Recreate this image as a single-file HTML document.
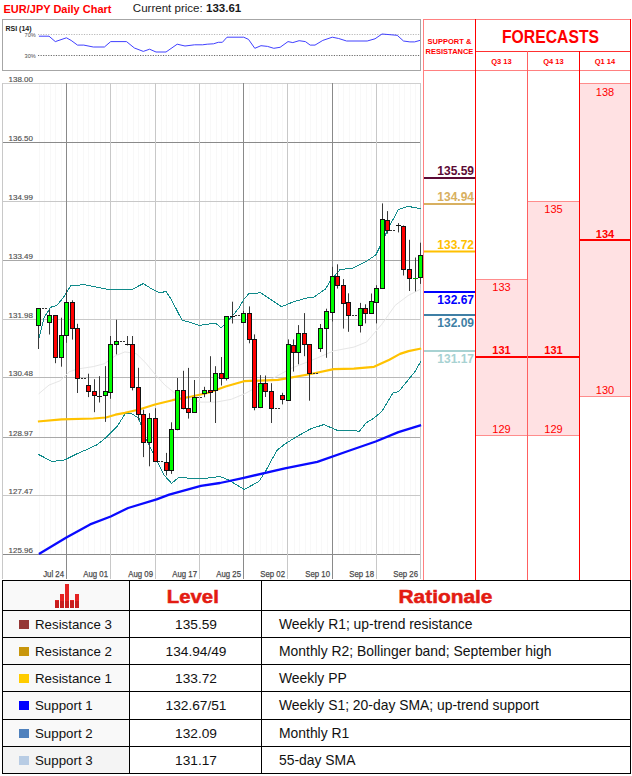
<!DOCTYPE html>
<html><head><meta charset="utf-8"><title>EUR/JPY Daily Chart</title>
<style>html,body{margin:0;padding:0;background:#fff;width:632px;height:776px;overflow:hidden}</style>
</head><body>
<svg width="632" height="776" viewBox="0 0 632 776" style="display:block">
<rect x="0" y="0" width="632" height="776" fill="#fff"/>
<text x="3.5" y="13" font-family='"Liberation Sans", sans-serif' font-size="11" font-weight="bold" fill="#ff0000">EUR/JPY Daily Chart</text>
<text x="132.8" y="12.4" font-family='"Liberation Sans", sans-serif' font-size="11" textLength="108.5" lengthAdjust="spacingAndGlyphs" fill="#1a1a1a">Current price: <tspan font-weight="bold">133.61</tspan></text>
<rect x="2.5" y="19.5" width="418" height="51" fill="none" stroke="#a6a6a6" stroke-width="1"/>
<text x="5.5" y="31" font-family='"Liberation Sans", sans-serif' font-size="7" font-weight="bold" fill="#222">RSI (14)</text>
<text x="24.6" y="37.2" font-family='"Liberation Sans", sans-serif' font-size="5.6" fill="#4a4a4a">70%</text>
<text x="24.6" y="58.2" font-family='"Liberation Sans", sans-serif' font-size="5.6" fill="#4a4a4a">30%</text>
<line x1="38" y1="34.5" x2="420" y2="34.5" stroke="#b8b8b8" stroke-width="1" stroke-dasharray="1.2 1.35"/>
<line x1="38" y1="55.5" x2="420" y2="55.5" stroke="#6a6a6a" stroke-width="1" stroke-dasharray="1.2 1.35"/>
<polyline fill="none" stroke="#4040ff" stroke-width="1" points="38.9,36.2 49,36.2 55.3,41.6 66.4,37.8 71.1,40.4 77.5,45.1 83.8,45.1 93.3,47 104.4,47 110.7,41.6 126.5,41.6 134.4,48 143.3,51.4 149.6,49.2 156,52 166,52 177.2,44.2 185,46 194.6,44.8 202.5,44.8 207.2,44.2 213.5,43.8 218.3,42.3 222.4,42.3 227,37.2 243.7,37.2 248.5,39.4 254.8,48.3 261,45.7 267.5,46.4 273.8,48.3 280.1,47.3 288,41.6 292.8,42.6 299.1,40.7 305.4,41.6 310.2,45.1 315,45.1 322.8,40.4 332.3,37.2 338.7,38.5 346.6,41 367.2,41 375,38.8 382,34 397.2,35.3 403.5,41 409.9,41.9 414.6,41.9 420,40.4"/>
<rect x="39" y="83" width="1" height="471" fill="#f8f8f8" shape-rendering="crispEdges"/>
<rect x="44" y="83" width="1" height="471" fill="#f8f8f8" shape-rendering="crispEdges"/>
<rect x="50" y="83" width="1" height="471" fill="#f8f8f8" shape-rendering="crispEdges"/>
<rect x="55" y="83" width="1" height="471" fill="#f8f8f8" shape-rendering="crispEdges"/>
<rect x="61" y="83" width="1" height="471" fill="#f8f8f8" shape-rendering="crispEdges"/>
<rect x="72" y="83" width="1" height="471" fill="#f8f8f8" shape-rendering="crispEdges"/>
<rect x="77" y="83" width="1" height="471" fill="#f8f8f8" shape-rendering="crispEdges"/>
<rect x="83" y="83" width="1" height="471" fill="#f8f8f8" shape-rendering="crispEdges"/>
<rect x="88" y="83" width="1" height="471" fill="#f8f8f8" shape-rendering="crispEdges"/>
<rect x="94" y="83" width="1" height="471" fill="#f8f8f8" shape-rendering="crispEdges"/>
<rect x="100" y="83" width="1" height="471" fill="#f8f8f8" shape-rendering="crispEdges"/>
<rect x="105" y="83" width="1" height="471" fill="#f8f8f8" shape-rendering="crispEdges"/>
<rect x="116" y="83" width="1" height="471" fill="#f8f8f8" shape-rendering="crispEdges"/>
<rect x="122" y="83" width="1" height="471" fill="#f8f8f8" shape-rendering="crispEdges"/>
<rect x="127" y="83" width="1" height="471" fill="#f8f8f8" shape-rendering="crispEdges"/>
<rect x="133" y="83" width="1" height="471" fill="#f8f8f8" shape-rendering="crispEdges"/>
<rect x="138" y="83" width="1" height="471" fill="#f8f8f8" shape-rendering="crispEdges"/>
<rect x="144" y="83" width="1" height="471" fill="#f8f8f8" shape-rendering="crispEdges"/>
<rect x="149" y="83" width="1" height="471" fill="#f8f8f8" shape-rendering="crispEdges"/>
<rect x="161" y="83" width="1" height="471" fill="#f8f8f8" shape-rendering="crispEdges"/>
<rect x="166" y="83" width="1" height="471" fill="#f8f8f8" shape-rendering="crispEdges"/>
<rect x="172" y="83" width="1" height="471" fill="#f8f8f8" shape-rendering="crispEdges"/>
<rect x="177" y="83" width="1" height="471" fill="#f8f8f8" shape-rendering="crispEdges"/>
<rect x="183" y="83" width="1" height="471" fill="#f8f8f8" shape-rendering="crispEdges"/>
<rect x="188" y="83" width="1" height="471" fill="#f8f8f8" shape-rendering="crispEdges"/>
<rect x="194" y="83" width="1" height="471" fill="#f8f8f8" shape-rendering="crispEdges"/>
<rect x="205" y="83" width="1" height="471" fill="#f8f8f8" shape-rendering="crispEdges"/>
<rect x="210" y="83" width="1" height="471" fill="#f8f8f8" shape-rendering="crispEdges"/>
<rect x="216" y="83" width="1" height="471" fill="#f8f8f8" shape-rendering="crispEdges"/>
<rect x="221" y="83" width="1" height="471" fill="#f8f8f8" shape-rendering="crispEdges"/>
<rect x="227" y="83" width="1" height="471" fill="#f8f8f8" shape-rendering="crispEdges"/>
<rect x="233" y="83" width="1" height="471" fill="#f8f8f8" shape-rendering="crispEdges"/>
<rect x="238" y="83" width="1" height="471" fill="#f8f8f8" shape-rendering="crispEdges"/>
<rect x="249" y="83" width="1" height="471" fill="#f8f8f8" shape-rendering="crispEdges"/>
<rect x="255" y="83" width="1" height="471" fill="#f8f8f8" shape-rendering="crispEdges"/>
<rect x="260" y="83" width="1" height="471" fill="#f8f8f8" shape-rendering="crispEdges"/>
<rect x="266" y="83" width="1" height="471" fill="#f8f8f8" shape-rendering="crispEdges"/>
<rect x="271" y="83" width="1" height="471" fill="#f8f8f8" shape-rendering="crispEdges"/>
<rect x="277" y="83" width="1" height="471" fill="#f8f8f8" shape-rendering="crispEdges"/>
<rect x="282" y="83" width="1" height="471" fill="#f8f8f8" shape-rendering="crispEdges"/>
<rect x="294" y="83" width="1" height="471" fill="#f8f8f8" shape-rendering="crispEdges"/>
<rect x="299" y="83" width="1" height="471" fill="#f8f8f8" shape-rendering="crispEdges"/>
<rect x="305" y="83" width="1" height="471" fill="#f8f8f8" shape-rendering="crispEdges"/>
<rect x="310" y="83" width="1" height="471" fill="#f8f8f8" shape-rendering="crispEdges"/>
<rect x="316" y="83" width="1" height="471" fill="#f8f8f8" shape-rendering="crispEdges"/>
<rect x="321" y="83" width="1" height="471" fill="#f8f8f8" shape-rendering="crispEdges"/>
<rect x="327" y="83" width="1" height="471" fill="#f8f8f8" shape-rendering="crispEdges"/>
<rect x="338" y="83" width="1" height="471" fill="#f8f8f8" shape-rendering="crispEdges"/>
<rect x="343" y="83" width="1" height="471" fill="#f8f8f8" shape-rendering="crispEdges"/>
<rect x="349" y="83" width="1" height="471" fill="#f8f8f8" shape-rendering="crispEdges"/>
<rect x="355" y="83" width="1" height="471" fill="#f8f8f8" shape-rendering="crispEdges"/>
<rect x="360" y="83" width="1" height="471" fill="#f8f8f8" shape-rendering="crispEdges"/>
<rect x="366" y="83" width="1" height="471" fill="#f8f8f8" shape-rendering="crispEdges"/>
<rect x="371" y="83" width="1" height="471" fill="#f8f8f8" shape-rendering="crispEdges"/>
<rect x="382" y="83" width="1" height="471" fill="#f8f8f8" shape-rendering="crispEdges"/>
<rect x="388" y="83" width="1" height="471" fill="#f8f8f8" shape-rendering="crispEdges"/>
<rect x="393" y="83" width="1" height="471" fill="#f8f8f8" shape-rendering="crispEdges"/>
<rect x="399" y="83" width="1" height="471" fill="#f8f8f8" shape-rendering="crispEdges"/>
<rect x="404" y="83" width="1" height="471" fill="#f8f8f8" shape-rendering="crispEdges"/>
<rect x="410" y="83" width="1" height="471" fill="#f8f8f8" shape-rendering="crispEdges"/>
<rect x="415" y="83" width="1" height="471" fill="#f8f8f8" shape-rendering="crispEdges"/>
<line x1="2" y1="83.5" x2="421" y2="83.5" stroke="#cfcfcf" stroke-width="1"/>
<line x1="2" y1="142.5" x2="421" y2="142.5" stroke="#8a8a8a" stroke-width="1"/>
<line x1="2" y1="201.5" x2="421" y2="201.5" stroke="#c8c8c8" stroke-width="1"/>
<line x1="2" y1="260.5" x2="421" y2="260.5" stroke="#a8a8a8" stroke-width="1"/>
<line x1="2" y1="319.5" x2="421" y2="319.5" stroke="#c8c8c8" stroke-width="1"/>
<line x1="2" y1="377.5" x2="421" y2="377.5" stroke="#b8b8b8" stroke-width="1"/>
<line x1="2" y1="437.5" x2="421" y2="437.5" stroke="#a8a8a8" stroke-width="1"/>
<line x1="2" y1="495.5" x2="421" y2="495.5" stroke="#c8c8c8" stroke-width="1"/>
<line x1="2" y1="554.5" x2="421" y2="554.5" stroke="#8a8a8a" stroke-width="1"/>
<line x1="66.5" y1="83" x2="66.5" y2="579" stroke="#8a8a8a" stroke-width="1"/>
<line x1="110.5" y1="83" x2="110.5" y2="579" stroke="#c8c8c8" stroke-width="1"/>
<line x1="155.5" y1="83" x2="155.5" y2="579" stroke="#c8c8c8" stroke-width="1"/>
<line x1="199.5" y1="83" x2="199.5" y2="579" stroke="#c8c8c8" stroke-width="1"/>
<line x1="243.5" y1="83" x2="243.5" y2="579" stroke="#8a8a8a" stroke-width="1"/>
<line x1="287.5" y1="83" x2="287.5" y2="579" stroke="#c8c8c8" stroke-width="1"/>
<line x1="332.5" y1="83" x2="332.5" y2="579" stroke="#8a8a8a" stroke-width="1"/>
<line x1="376.5" y1="83" x2="376.5" y2="579" stroke="#c8c8c8" stroke-width="1"/>
<line x1="420.5" y1="83" x2="420.5" y2="579" stroke="#c8c8c8" stroke-width="1"/>
<line x1="2.5" y1="83" x2="2.5" y2="579" stroke="#c8c8c8" stroke-width="1"/>
<text x="8.5" y="81.5" font-family='"Liberation Sans", sans-serif' font-size="8" fill="#505050" stroke="#505050" stroke-width="0.15">138.00</text>
<text x="8.5" y="140.5" font-family='"Liberation Sans", sans-serif' font-size="8" fill="#505050" stroke="#505050" stroke-width="0.15">136.50</text>
<text x="8.5" y="199.5" font-family='"Liberation Sans", sans-serif' font-size="8" fill="#505050" stroke="#505050" stroke-width="0.15">134.99</text>
<text x="8.5" y="258.5" font-family='"Liberation Sans", sans-serif' font-size="8" fill="#505050" stroke="#505050" stroke-width="0.15">133.49</text>
<text x="8.5" y="317.5" font-family='"Liberation Sans", sans-serif' font-size="8" fill="#505050" stroke="#505050" stroke-width="0.15">131.98</text>
<text x="8.5" y="375.5" font-family='"Liberation Sans", sans-serif' font-size="8" fill="#505050" stroke="#505050" stroke-width="0.15">130.48</text>
<text x="8.5" y="435.5" font-family='"Liberation Sans", sans-serif' font-size="8" fill="#505050" stroke="#505050" stroke-width="0.15">128.97</text>
<text x="8.5" y="493.5" font-family='"Liberation Sans", sans-serif' font-size="8" fill="#505050" stroke="#505050" stroke-width="0.15">127.47</text>
<text x="8.5" y="552.5" font-family='"Liberation Sans", sans-serif' font-size="8" fill="#505050" stroke="#505050" stroke-width="0.15">125.96</text>
<text x="64.0" y="576.8" text-anchor="end" font-family='"Liberation Sans", sans-serif' font-size="8.8" fill="#4a4a4a" stroke="#4a4a4a" stroke-width="0.25" textLength="20.8" lengthAdjust="spacingAndGlyphs">Jul 24</text>
<text x="108.0" y="576.8" text-anchor="end" font-family='"Liberation Sans", sans-serif' font-size="8.8" fill="#4a4a4a" stroke="#4a4a4a" stroke-width="0.25" textLength="24.7" lengthAdjust="spacingAndGlyphs">Aug 01</text>
<text x="153.0" y="576.8" text-anchor="end" font-family='"Liberation Sans", sans-serif' font-size="8.8" fill="#4a4a4a" stroke="#4a4a4a" stroke-width="0.25" textLength="24.7" lengthAdjust="spacingAndGlyphs">Aug 09</text>
<text x="197.0" y="576.8" text-anchor="end" font-family='"Liberation Sans", sans-serif' font-size="8.8" fill="#4a4a4a" stroke="#4a4a4a" stroke-width="0.25" textLength="24.7" lengthAdjust="spacingAndGlyphs">Aug 17</text>
<text x="241.0" y="576.8" text-anchor="end" font-family='"Liberation Sans", sans-serif' font-size="8.8" fill="#4a4a4a" stroke="#4a4a4a" stroke-width="0.25" textLength="24.7" lengthAdjust="spacingAndGlyphs">Aug 25</text>
<text x="285.0" y="576.8" text-anchor="end" font-family='"Liberation Sans", sans-serif' font-size="8.8" fill="#4a4a4a" stroke="#4a4a4a" stroke-width="0.25" textLength="24.7" lengthAdjust="spacingAndGlyphs">Sep 02</text>
<text x="330.0" y="576.8" text-anchor="end" font-family='"Liberation Sans", sans-serif' font-size="8.8" fill="#4a4a4a" stroke="#4a4a4a" stroke-width="0.25" textLength="24.7" lengthAdjust="spacingAndGlyphs">Sep 10</text>
<text x="374.0" y="576.8" text-anchor="end" font-family='"Liberation Sans", sans-serif' font-size="8.8" fill="#4a4a4a" stroke="#4a4a4a" stroke-width="0.25" textLength="24.7" lengthAdjust="spacingAndGlyphs">Sep 18</text>
<text x="418.0" y="576.8" text-anchor="end" font-family='"Liberation Sans", sans-serif' font-size="8.8" fill="#4a4a4a" stroke="#4a4a4a" stroke-width="0.25" textLength="24.7" lengthAdjust="spacingAndGlyphs">Sep 26</text>
<polyline fill="none" stroke="#e6e6e6" stroke-width="1" stroke-linejoin="round" stroke-opacity="1" points="38.7,393.8 49,385.1 60,380.8 69.6,371.6 77.5,369 93.3,366.6 104.4,363.7 115.4,355.8 124.9,351.9 136.4,353.7 145.9,363.2 155.4,374.6 164.9,385.1 174.4,392.7 187.7,398.3 201,402.1 216.1,402.1 231.3,399.3 245,393.6 268,381 290.6,368.6 316,358.5 333.7,350.9 353.9,347.1 366.6,342 381.8,324.3 395.2,305.3 408.1,295.6 420.5,289.1"/>
<polyline fill="none" stroke="#108a8a" stroke-width="1" stroke-linejoin="round" stroke-opacity="1" shape-rendering="crispEdges" points="38.9,338 44.2,317.5 50.6,307.3 56.9,305.4 63.2,297.8 71.1,285.2 85.4,284.9 106,289 125,289.9 132.8,289 143.3,283.6 153.4,289.9 159.7,292.8 166,291.5 170.8,298.5 181.9,320 194.6,323.8 199.4,325.4 205.5,324.5 215.5,323.2 221.2,327.8 227.7,321 233.2,314.9 238.7,308.2 244.3,298.8 249.2,293.3 256.4,293.3 260.4,292.6 271,299.7 281.7,306.7 294,301.6 306,298.2 314,297 325.4,289.1 330.3,281 340,269.6 353,268 366,261.5 375.7,255 382.2,242 388.7,227.4 398.4,209.6 408.1,206.4 420.5,208.6"/>
<polyline fill="none" stroke="#108a8a" stroke-width="1" stroke-linejoin="round" stroke-opacity="1" shape-rendering="crispEdges" points="37.9,454.2 52.2,461.5 64.8,459.9 77.5,453.5 88.5,448.8 96.5,445 106,437.7 117,426.6 125,414 131.3,413.4 139.2,418.7 143.4,433.7 156,458.5 164,475 171.5,483.3 178.7,477.5 200.9,478.9 219.9,476.5 228.1,479.7 244.3,489.5 258.9,481.4 265.4,471.6 276.8,450.5 284.9,444 297.8,436 310.8,428.8 323.8,424.6 336.8,430.1 359.5,431.1 366,423 374,418.1 382.2,411 392.7,393.2 399,391.3 414.9,371.6 421.2,360.6"/>
<polyline fill="none" stroke="#ffc200" stroke-width="2.2" stroke-linejoin="round" stroke-opacity="1" points="37.9,421.5 61.6,419.4 93.3,418.5 106,417.5 115.4,414.7 124.9,412.8 138.3,409.7 155,404.5 172.5,400.2 191.5,396.5 208.5,392.7 225.6,386.5 244,381.2 278,379.8 310.9,374 333.7,369.2 353.9,368.6 374,366.8 389.4,359.7 400,353.9 408.5,351.1 421.2,348.5"/>
<polyline fill="none" stroke="#0a0aff" stroke-width="2.3" stroke-linejoin="round" stroke-opacity="1" points="38.9,553.9 66.4,537.4 90.1,524.4 110.7,516.5 128.1,508 156.6,499.4 169.2,494.7 200.9,485.8 220,483 242.7,478.1 284.9,468.4 317.3,461.9 349.7,450.5 375.7,441.5 398.4,432.1 421.1,425.2"/>
<g shape-rendering="crispEdges">
<line x1="41.5" y1="308.5" x2="46.5" y2="308.5" stroke="#333" stroke-width="1" stroke-dasharray="2 1"/>
<line x1="80.5" y1="378.5" x2="85.5" y2="378.5" stroke="#333" stroke-width="1" stroke-dasharray="2 1"/>
<line x1="119.5" y1="341.5" x2="124.5" y2="341.5" stroke="#333" stroke-width="1" stroke-dasharray="2 1"/>
<line x1="158.1" y1="461.5" x2="163.1" y2="461.5" stroke="#333" stroke-width="1" stroke-dasharray="2 1"/>
<line x1="196.5" y1="397.5" x2="201.5" y2="397.5" stroke="#333" stroke-width="1" stroke-dasharray="2 1"/>
<line x1="235.0" y1="315.5" x2="240.0" y2="315.5" stroke="#333" stroke-width="1" stroke-dasharray="2 1"/>
<line x1="274.5" y1="408.5" x2="279.5" y2="408.5" stroke="#333" stroke-width="1" stroke-dasharray="2 1"/>
<line x1="313.0" y1="373.5" x2="318.0" y2="373.5" stroke="#333" stroke-width="1" stroke-dasharray="2 1"/>
<line x1="351.7" y1="315.5" x2="356.7" y2="315.5" stroke="#333" stroke-width="1" stroke-dasharray="2 1"/>
<line x1="390.3" y1="230.5" x2="395.3" y2="230.5" stroke="#333" stroke-width="1" stroke-dasharray="2 1"/>
</g>
<line x1="38.5" y1="308.5" x2="38.5" y2="349.0" stroke="#3a3a3a" stroke-width="1"/>
<rect x="36.5" y="308.5" width="4" height="17" fill="#00ff00" stroke="#111" stroke-width="1"/>
<line x1="49.5" y1="309.3" x2="49.5" y2="334.5" stroke="#3a3a3a" stroke-width="1"/>
<rect x="47.5" y="315.5" width="4" height="7" fill="#00ff00" stroke="#111" stroke-width="1"/>
<line x1="55.5" y1="315.0" x2="55.5" y2="363.2" stroke="#3a3a3a" stroke-width="1"/>
<rect x="53.5" y="315.5" width="4" height="42" fill="#ff0000" stroke="#111" stroke-width="1"/>
<line x1="61.5" y1="317.7" x2="61.5" y2="366.7" stroke="#3a3a3a" stroke-width="1"/>
<rect x="59.5" y="335.5" width="4" height="22" fill="#00ff00" stroke="#111" stroke-width="1"/>
<line x1="66.5" y1="289.5" x2="66.5" y2="342.8" stroke="#3a3a3a" stroke-width="1"/>
<rect x="64.5" y="302.5" width="4" height="33" fill="#00ff00" stroke="#111" stroke-width="1"/>
<line x1="72.5" y1="300.3" x2="72.5" y2="339.6" stroke="#3a3a3a" stroke-width="1"/>
<rect x="70.5" y="302.5" width="4" height="26" fill="#ff0000" stroke="#111" stroke-width="1"/>
<line x1="77.5" y1="323.8" x2="77.5" y2="393.0" stroke="#3a3a3a" stroke-width="1"/>
<rect x="75.5" y="328.5" width="4" height="50" fill="#ff0000" stroke="#111" stroke-width="1"/>
<line x1="88.5" y1="373.7" x2="88.5" y2="397.1" stroke="#3a3a3a" stroke-width="1"/>
<rect x="86.5" y="385.5" width="4" height="6" fill="#ff0000" stroke="#111" stroke-width="1"/>
<line x1="94.5" y1="379.2" x2="94.5" y2="412.2" stroke="#3a3a3a" stroke-width="1"/>
<rect x="92.5" y="391.5" width="4" height="4" fill="#ff0000" stroke="#111" stroke-width="1"/>
<line x1="99.5" y1="376.2" x2="99.5" y2="402.5" stroke="#3a3a3a" stroke-width="1"/>
<line x1="97.0" y1="396.5" x2="102.0" y2="396.5" stroke="#111" stroke-width="1"/>
<line x1="105.5" y1="366.1" x2="105.5" y2="421.9" stroke="#3a3a3a" stroke-width="1"/>
<rect x="103.5" y="391.5" width="4" height="4" fill="#00ff00" stroke="#111" stroke-width="1"/>
<line x1="110.5" y1="336.0" x2="110.5" y2="398.8" stroke="#3a3a3a" stroke-width="1"/>
<rect x="108.5" y="344.5" width="4" height="48" fill="#00ff00" stroke="#111" stroke-width="1"/>
<line x1="116.5" y1="319.7" x2="116.5" y2="354.4" stroke="#3a3a3a" stroke-width="1"/>
<rect x="114.5" y="341.5" width="4" height="3" fill="#00ff00" stroke="#111" stroke-width="1"/>
<line x1="127.5" y1="336.0" x2="127.5" y2="345.5" stroke="#3a3a3a" stroke-width="1"/>
<line x1="125.0" y1="344.5" x2="130.0" y2="344.5" stroke="#111" stroke-width="1"/>
<line x1="132.5" y1="336.0" x2="132.5" y2="390.4" stroke="#3a3a3a" stroke-width="1"/>
<rect x="130.5" y="344.5" width="4" height="43" fill="#ff0000" stroke="#111" stroke-width="1"/>
<line x1="138.5" y1="367.8" x2="138.5" y2="420.3" stroke="#3a3a3a" stroke-width="1"/>
<rect x="136.5" y="387.5" width="4" height="27" fill="#ff0000" stroke="#111" stroke-width="1"/>
<line x1="143.5" y1="409.7" x2="143.5" y2="457.1" stroke="#3a3a3a" stroke-width="1"/>
<rect x="141.5" y="414.5" width="4" height="28" fill="#ff0000" stroke="#111" stroke-width="1"/>
<line x1="149.5" y1="413.2" x2="149.5" y2="466.3" stroke="#3a3a3a" stroke-width="1"/>
<rect x="147.5" y="418.5" width="4" height="24" fill="#00ff00" stroke="#111" stroke-width="1"/>
<line x1="155.5" y1="408.2" x2="155.5" y2="461.3" stroke="#3a3a3a" stroke-width="1"/>
<rect x="153.5" y="418.5" width="4" height="43" fill="#ff0000" stroke="#111" stroke-width="1"/>
<line x1="166.5" y1="452.9" x2="166.5" y2="475.5" stroke="#3a3a3a" stroke-width="1"/>
<rect x="164.5" y="462.5" width="4" height="8" fill="#ff0000" stroke="#111" stroke-width="1"/>
<line x1="171.5" y1="422.3" x2="171.5" y2="473.9" stroke="#3a3a3a" stroke-width="1"/>
<rect x="169.5" y="429.5" width="4" height="41" fill="#00ff00" stroke="#111" stroke-width="1"/>
<line x1="177.5" y1="378.0" x2="177.5" y2="430.3" stroke="#3a3a3a" stroke-width="1"/>
<rect x="175.5" y="390.5" width="4" height="39" fill="#00ff00" stroke="#111" stroke-width="1"/>
<line x1="183.5" y1="370.8" x2="183.5" y2="409.4" stroke="#3a3a3a" stroke-width="1"/>
<rect x="181.5" y="390.5" width="4" height="18" fill="#ff0000" stroke="#111" stroke-width="1"/>
<line x1="188.5" y1="367.9" x2="188.5" y2="418.6" stroke="#3a3a3a" stroke-width="1"/>
<rect x="186.5" y="408.5" width="4" height="4" fill="#ff0000" stroke="#111" stroke-width="1"/>
<line x1="194.5" y1="380.0" x2="194.5" y2="412.5" stroke="#3a3a3a" stroke-width="1"/>
<rect x="192.5" y="397.5" width="4" height="15" fill="#00ff00" stroke="#111" stroke-width="1"/>
<line x1="204.5" y1="386.8" x2="204.5" y2="397.2" stroke="#3a3a3a" stroke-width="1"/>
<rect x="202.5" y="390.5" width="4" height="3" fill="#00ff00" stroke="#111" stroke-width="1"/>
<line x1="210.5" y1="356.2" x2="210.5" y2="401.9" stroke="#3a3a3a" stroke-width="1"/>
<rect x="208.5" y="390.5" width="4" height="2" fill="#ff0000" stroke="#111" stroke-width="1"/>
<line x1="215.5" y1="366.2" x2="215.5" y2="423.0" stroke="#3a3a3a" stroke-width="1"/>
<rect x="213.5" y="373.5" width="4" height="17" fill="#00ff00" stroke="#111" stroke-width="1"/>
<line x1="221.5" y1="357.0" x2="221.5" y2="385.5" stroke="#3a3a3a" stroke-width="1"/>
<rect x="219.5" y="373.5" width="4" height="5" fill="#ff0000" stroke="#111" stroke-width="1"/>
<line x1="226.5" y1="316.0" x2="226.5" y2="380.5" stroke="#3a3a3a" stroke-width="1"/>
<rect x="224.5" y="316.5" width="4" height="62" fill="#00ff00" stroke="#111" stroke-width="1"/>
<line x1="232.5" y1="301.7" x2="232.5" y2="323.5" stroke="#3a3a3a" stroke-width="1"/>
<line x1="230.0" y1="316.5" x2="235.0" y2="316.5" stroke="#111" stroke-width="1"/>
<line x1="243.5" y1="311.0" x2="243.5" y2="322.7" stroke="#3a3a3a" stroke-width="1"/>
<rect x="241.5" y="313.5" width="4" height="9" fill="#00ff00" stroke="#111" stroke-width="1"/>
<line x1="249.5" y1="306.4" x2="249.5" y2="343.3" stroke="#3a3a3a" stroke-width="1"/>
<rect x="247.5" y="313.5" width="4" height="26" fill="#ff0000" stroke="#111" stroke-width="1"/>
<line x1="254.5" y1="334.4" x2="254.5" y2="410.3" stroke="#3a3a3a" stroke-width="1"/>
<rect x="252.5" y="339.5" width="4" height="68" fill="#ff0000" stroke="#111" stroke-width="1"/>
<line x1="260.5" y1="375.1" x2="260.5" y2="408.1" stroke="#3a3a3a" stroke-width="1"/>
<rect x="258.5" y="383.5" width="4" height="24" fill="#00ff00" stroke="#111" stroke-width="1"/>
<line x1="265.5" y1="375.5" x2="265.5" y2="397.0" stroke="#3a3a3a" stroke-width="1"/>
<rect x="263.5" y="383.5" width="4" height="8" fill="#ff0000" stroke="#111" stroke-width="1"/>
<line x1="271.5" y1="383.2" x2="271.5" y2="423.0" stroke="#3a3a3a" stroke-width="1"/>
<rect x="269.5" y="391.5" width="4" height="17" fill="#ff0000" stroke="#111" stroke-width="1"/>
<line x1="282.5" y1="392.8" x2="282.5" y2="404.4" stroke="#3a3a3a" stroke-width="1"/>
<rect x="280.5" y="395.5" width="4" height="4" fill="#ff0000" stroke="#111" stroke-width="1"/>
<line x1="288.5" y1="339.4" x2="288.5" y2="401.0" stroke="#3a3a3a" stroke-width="1"/>
<rect x="286.5" y="344.5" width="4" height="56" fill="#00ff00" stroke="#111" stroke-width="1"/>
<line x1="293.5" y1="339.4" x2="293.5" y2="371.6" stroke="#3a3a3a" stroke-width="1"/>
<rect x="291.5" y="345.5" width="4" height="7" fill="#ff0000" stroke="#111" stroke-width="1"/>
<line x1="298.5" y1="325.1" x2="298.5" y2="364.3" stroke="#3a3a3a" stroke-width="1"/>
<rect x="296.5" y="333.5" width="4" height="19" fill="#00ff00" stroke="#111" stroke-width="1"/>
<line x1="304.5" y1="313.1" x2="304.5" y2="356.2" stroke="#3a3a3a" stroke-width="1"/>
<rect x="302.5" y="333.5" width="4" height="11" fill="#ff0000" stroke="#111" stroke-width="1"/>
<line x1="309.5" y1="344.2" x2="309.5" y2="400.7" stroke="#3a3a3a" stroke-width="1"/>
<rect x="307.5" y="344.5" width="4" height="29" fill="#ff0000" stroke="#111" stroke-width="1"/>
<line x1="320.5" y1="324.0" x2="320.5" y2="351.9" stroke="#3a3a3a" stroke-width="1"/>
<rect x="318.5" y="328.5" width="4" height="20" fill="#00ff00" stroke="#111" stroke-width="1"/>
<line x1="326.5" y1="308.7" x2="326.5" y2="357.8" stroke="#3a3a3a" stroke-width="1"/>
<rect x="324.5" y="311.5" width="4" height="17" fill="#00ff00" stroke="#111" stroke-width="1"/>
<line x1="332.5" y1="266.8" x2="332.5" y2="321.5" stroke="#3a3a3a" stroke-width="1"/>
<rect x="330.5" y="276.5" width="4" height="36" fill="#00ff00" stroke="#111" stroke-width="1"/>
<line x1="337.5" y1="264.3" x2="337.5" y2="288.6" stroke="#3a3a3a" stroke-width="1"/>
<rect x="335.5" y="276.5" width="4" height="9" fill="#ff0000" stroke="#111" stroke-width="1"/>
<line x1="343.5" y1="279.1" x2="343.5" y2="328.6" stroke="#3a3a3a" stroke-width="1"/>
<rect x="341.5" y="285.5" width="4" height="18" fill="#ff0000" stroke="#111" stroke-width="1"/>
<line x1="348.5" y1="293.3" x2="348.5" y2="331.8" stroke="#3a3a3a" stroke-width="1"/>
<rect x="346.5" y="302.5" width="4" height="13" fill="#ff0000" stroke="#111" stroke-width="1"/>
<line x1="360.5" y1="302.9" x2="360.5" y2="332.5" stroke="#3a3a3a" stroke-width="1"/>
<rect x="358.5" y="308.5" width="4" height="17" fill="#00ff00" stroke="#111" stroke-width="1"/>
<line x1="365.5" y1="304.3" x2="365.5" y2="323.4" stroke="#3a3a3a" stroke-width="1"/>
<rect x="363.5" y="308.5" width="4" height="5" fill="#ff0000" stroke="#111" stroke-width="1"/>
<line x1="371.5" y1="293.5" x2="371.5" y2="313.9" stroke="#3a3a3a" stroke-width="1"/>
<rect x="369.5" y="301.5" width="4" height="12" fill="#00ff00" stroke="#111" stroke-width="1"/>
<line x1="376.5" y1="285.2" x2="376.5" y2="323.4" stroke="#3a3a3a" stroke-width="1"/>
<rect x="374.5" y="288.5" width="4" height="14" fill="#00ff00" stroke="#111" stroke-width="1"/>
<line x1="382.5" y1="203.4" x2="382.5" y2="289.0" stroke="#3a3a3a" stroke-width="1"/>
<rect x="380.5" y="219.5" width="4" height="69" fill="#00ff00" stroke="#111" stroke-width="1"/>
<line x1="387.5" y1="211.1" x2="387.5" y2="233.7" stroke="#3a3a3a" stroke-width="1"/>
<rect x="385.5" y="220.5" width="4" height="10" fill="#ff0000" stroke="#111" stroke-width="1"/>
<line x1="398.5" y1="223.1" x2="398.5" y2="232.4" stroke="#3a3a3a" stroke-width="1"/>
<line x1="396.0" y1="225.5" x2="401.0" y2="225.5" stroke="#111" stroke-width="1"/>
<line x1="403.5" y1="225.5" x2="403.5" y2="275.5" stroke="#3a3a3a" stroke-width="1"/>
<rect x="401.5" y="226.5" width="4" height="43" fill="#ff0000" stroke="#111" stroke-width="1"/>
<line x1="409.5" y1="239.8" x2="409.5" y2="291.0" stroke="#3a3a3a" stroke-width="1"/>
<rect x="407.5" y="269.5" width="4" height="9" fill="#ff0000" stroke="#111" stroke-width="1"/>
<line x1="415.5" y1="257.5" x2="415.5" y2="291.4" stroke="#3a3a3a" stroke-width="1"/>
<line x1="413.0" y1="278.5" x2="418.0" y2="278.5" stroke="#00a000" stroke-width="1"/>
<line x1="420.5" y1="242.7" x2="420.5" y2="283.9" stroke="#3a3a3a" stroke-width="1"/>
<rect x="418.5" y="255.5" width="4" height="22" fill="#00ff00" stroke="#111" stroke-width="1"/>
<g shape-rendering="crispEdges">
<rect x="580" y="84" width="50" height="312" fill="#ffe1e3"/>
<rect x="528" y="201" width="51" height="234" fill="#ffe1e3"/>
<rect x="476" y="279" width="51" height="156" fill="#ffe1e3"/>
<line x1="580" y1="83.5" x2="630" y2="83.5" stroke="#ff8c8c"/>
<line x1="580" y1="396.5" x2="630" y2="396.5" stroke="#ff8c8c"/>
<line x1="528" y1="201.5" x2="579" y2="201.5" stroke="#ff8c8c"/>
<line x1="476" y1="279.5" x2="527" y2="279.5" stroke="#ff8c8c"/>
<line x1="476" y1="435.5" x2="579" y2="435.5" stroke="#ff8c8c"/>
<rect x="476" y="356" width="103" height="2" fill="#ff0000"/>
<rect x="580" y="239" width="50" height="2" fill="#ff0000"/>
<line x1="423.5" y1="19" x2="423.5" y2="580" stroke="#ff8080"/>
<line x1="423" y1="19.5" x2="631" y2="19.5" stroke="#ff8080"/>
<line x1="423" y1="70.5" x2="631" y2="70.5" stroke="#ff8080"/>
<line x1="476" y1="51.5" x2="631" y2="51.5" stroke="#ff3030"/>
<rect x="475" y="19" width="1" height="561" fill="#ff0000"/>
<line x1="527.5" y1="51" x2="527.5" y2="580" stroke="#ff6060"/>
<rect x="579" y="51" width="1" height="529" fill="#ff0000"/>
<rect x="630" y="19" width="1" height="561" fill="#ff0000"/>
</g>
<text x="449.5" y="43.8" text-anchor="middle" font-family='"Liberation Sans", sans-serif' font-size="7.5" font-weight="bold" fill="#ff0000">SUPPORT &amp;</text>
<text x="449.5" y="54.3" text-anchor="middle" font-family='"Liberation Sans", sans-serif' font-size="7.5" font-weight="bold" fill="#ff0000">RESISTANCE</text>
<text x="550.5" y="43" text-anchor="middle" font-family='"Liberation Sans", sans-serif' font-size="18" font-weight="bold" textLength="97" lengthAdjust="spacingAndGlyphs" fill="#ff0000">FORECASTS</text>
<text x="501.5" y="64.2" text-anchor="middle" font-family='"Liberation Sans", sans-serif' font-size="7.5" font-weight="bold" fill="#ff0000">Q3 13</text>
<text x="553.5" y="64.2" text-anchor="middle" font-family='"Liberation Sans", sans-serif' font-size="7.5" font-weight="bold" fill="#ff0000">Q4 13</text>
<text x="605" y="64.2" text-anchor="middle" font-family='"Liberation Sans", sans-serif' font-size="7.5" font-weight="bold" fill="#ff0000">Q1 14</text>
<text x="605" y="96" text-anchor="middle" font-family='"Liberation Sans", sans-serif' font-size="11" fill="#ff0000">138</text>
<text x="553.5" y="213" text-anchor="middle" font-family='"Liberation Sans", sans-serif' font-size="11" fill="#ff0000">135</text>
<text x="605" y="237.5" text-anchor="middle" font-family='"Liberation Sans", sans-serif' font-size="11" font-weight="bold" fill="#ff0000">134</text>
<text x="501.5" y="291" text-anchor="middle" font-family='"Liberation Sans", sans-serif' font-size="11" fill="#ff0000">133</text>
<text x="501.5" y="354" text-anchor="middle" font-family='"Liberation Sans", sans-serif' font-size="11" font-weight="bold" fill="#ff0000">131</text>
<text x="553.5" y="354" text-anchor="middle" font-family='"Liberation Sans", sans-serif' font-size="11" font-weight="bold" fill="#ff0000">131</text>
<text x="605" y="393.5" text-anchor="middle" font-family='"Liberation Sans", sans-serif' font-size="11" fill="#ff0000">130</text>
<text x="501.5" y="432.5" text-anchor="middle" font-family='"Liberation Sans", sans-serif' font-size="11" fill="#ff0000">129</text>
<text x="553.5" y="432.5" text-anchor="middle" font-family='"Liberation Sans", sans-serif' font-size="11" fill="#ff0000">129</text>
<rect x="424" y="177" width="51" height="2" fill="#5c0a35"/>
<text x="474" y="175" text-anchor="end" font-family='"Liberation Sans", sans-serif' font-size="12" font-weight="bold" fill="#5c0a35">135.59</text>
<rect x="424" y="203" width="51" height="2" fill="#d8b060"/>
<text x="474" y="201" text-anchor="end" font-family='"Liberation Sans", sans-serif' font-size="12" font-weight="bold" fill="#d8b060">134.94</text>
<rect x="424" y="250.5" width="51" height="2" fill="#ffc000"/>
<text x="474" y="248.5" text-anchor="end" font-family='"Liberation Sans", sans-serif' font-size="12" font-weight="bold" fill="#ffc000">133.72</text>
<rect x="424" y="291" width="51" height="2" fill="#0000ff"/>
<text x="474" y="304" text-anchor="end" font-family='"Liberation Sans", sans-serif' font-size="12" font-weight="bold" fill="#0000ff">132.67</text>
<rect x="424" y="314" width="51" height="2" fill="#3f7fa5"/>
<text x="474" y="327" text-anchor="end" font-family='"Liberation Sans", sans-serif' font-size="12" font-weight="bold" fill="#3f7fa5">132.09</text>
<rect x="424" y="350" width="51" height="2" fill="#a8d2d2"/>
<text x="474" y="363" text-anchor="end" font-family='"Liberation Sans", sans-serif' font-size="12" font-weight="bold" fill="#a8d2d2">131.17</text>
<rect x="3" y="581" width="126" height="165" fill="#f9f9f9"/>
<rect x="3" y="747" width="126" height="26" fill="#f4f4f4"/>
<g shape-rendering="crispEdges">
<rect x="2" y="580" width="629" height="1" fill="#000"/>
<rect x="2" y="610" width="629" height="1" fill="#000"/>
<rect x="2" y="637" width="629" height="1" fill="#000"/>
<rect x="2" y="664" width="629" height="1" fill="#000"/>
<rect x="2" y="691" width="629" height="1" fill="#000"/>
<rect x="2" y="719" width="629" height="1" fill="#000"/>
<rect x="2" y="746" width="629" height="1" fill="#000"/>
<rect x="2" y="773" width="629" height="1" fill="#000"/>
<rect x="2" y="580" width="1" height="194" fill="#000"/>
<rect x="129" y="580" width="1" height="194" fill="#000"/>
<rect x="261" y="580" width="1" height="194" fill="#000"/>
<rect x="630" y="580" width="1" height="194" fill="#000"/>
<rect x="55" y="600" width="4.3" height="8" fill="#e52222"/>
<rect x="55" y="601" width="4.3" height="7" fill="#c81c1c"/>
<rect x="60" y="594" width="4.3" height="14" fill="#e52222"/>
<rect x="60" y="601" width="4.3" height="7" fill="#c81c1c"/>
<rect x="65" y="584" width="4.3" height="24" fill="#e52222"/>
<rect x="65" y="601" width="4.3" height="7" fill="#c81c1c"/>
<rect x="70" y="600" width="4.3" height="8" fill="#e52222"/>
<rect x="70" y="601" width="4.3" height="7" fill="#c81c1c"/>
<rect x="75" y="594" width="4.3" height="14" fill="#e52222"/>
<rect x="75" y="601" width="4.3" height="7" fill="#c81c1c"/>
</g>
<text x="192.8" y="603" text-anchor="middle" font-family='"Liberation Sans", sans-serif' font-size="18" font-weight="bold" textLength="52" lengthAdjust="spacingAndGlyphs" fill="#e31b12" stroke="#e31b12" stroke-width="0.5">Level</text>
<text x="445.5" y="602.7" text-anchor="middle" font-family='"Liberation Sans", sans-serif' font-size="18" font-weight="bold" textLength="94" lengthAdjust="spacingAndGlyphs" fill="#e31b12" stroke="#e31b12" stroke-width="0.5">Rationale</text>
<rect x="19" y="620" width="10" height="9" fill="#953735"/>
<text x="35" y="628.7" font-family='"Liberation Sans", sans-serif' font-size="13.3" fill="#111">Resistance 3</text>
<text x="196" y="628.7" text-anchor="middle" font-family='"Liberation Sans", sans-serif' font-size="13.7" fill="#111">135.59</text>
<text x="279" y="628.7" font-family='"Liberation Sans", sans-serif' font-size="13.9" fill="#111">Weekly R1; up-trend resistance</text>
<rect x="19" y="647" width="10" height="9" fill="#c8960c"/>
<text x="35" y="655.7" font-family='"Liberation Sans", sans-serif' font-size="13.3" fill="#111">Resistance 2</text>
<text x="196" y="655.7" text-anchor="middle" font-family='"Liberation Sans", sans-serif' font-size="13.7" fill="#111">134.94/49</text>
<text x="279" y="655.7" font-family='"Liberation Sans", sans-serif' font-size="13.9" fill="#111">Monthly R2; Bollinger band; September high</text>
<rect x="19" y="674" width="10" height="9" fill="#ffcc00"/>
<text x="35" y="682.7" font-family='"Liberation Sans", sans-serif' font-size="13.3" fill="#111">Resistance 1</text>
<text x="196" y="682.7" text-anchor="middle" font-family='"Liberation Sans", sans-serif' font-size="13.7" fill="#111">133.72</text>
<text x="279" y="682.7" font-family='"Liberation Sans", sans-serif' font-size="13.9" fill="#111">Weekly PP</text>
<rect x="19" y="701" width="10" height="9" fill="#0000ff"/>
<text x="35" y="710.2" font-family='"Liberation Sans", sans-serif' font-size="13.3" fill="#111">Support 1</text>
<text x="196" y="710.2" text-anchor="middle" font-family='"Liberation Sans", sans-serif' font-size="13.7" fill="#111">132.67/51</text>
<text x="279" y="710.2" font-family='"Liberation Sans", sans-serif' font-size="13.9" fill="#111">Weekly S1; 20-day SMA; up-trend support</text>
<rect x="19" y="729" width="10" height="9" fill="#4f81bd"/>
<text x="35" y="737.7" font-family='"Liberation Sans", sans-serif' font-size="13.3" fill="#111">Support 2</text>
<text x="196" y="737.7" text-anchor="middle" font-family='"Liberation Sans", sans-serif' font-size="13.7" fill="#111">132.09</text>
<text x="279" y="737.7" font-family='"Liberation Sans", sans-serif' font-size="13.9" fill="#111">Monthly R1</text>
<rect x="19" y="756" width="10" height="9" fill="#b8cce4"/>
<text x="35" y="764.7" font-family='"Liberation Sans", sans-serif' font-size="13.3" fill="#111">Support 3</text>
<text x="196" y="764.7" text-anchor="middle" font-family='"Liberation Sans", sans-serif' font-size="13.7" fill="#111">131.17</text>
<text x="279" y="764.7" font-family='"Liberation Sans", sans-serif' font-size="13.9" fill="#111">55-day SMA</text>
</svg>
</body></html>
